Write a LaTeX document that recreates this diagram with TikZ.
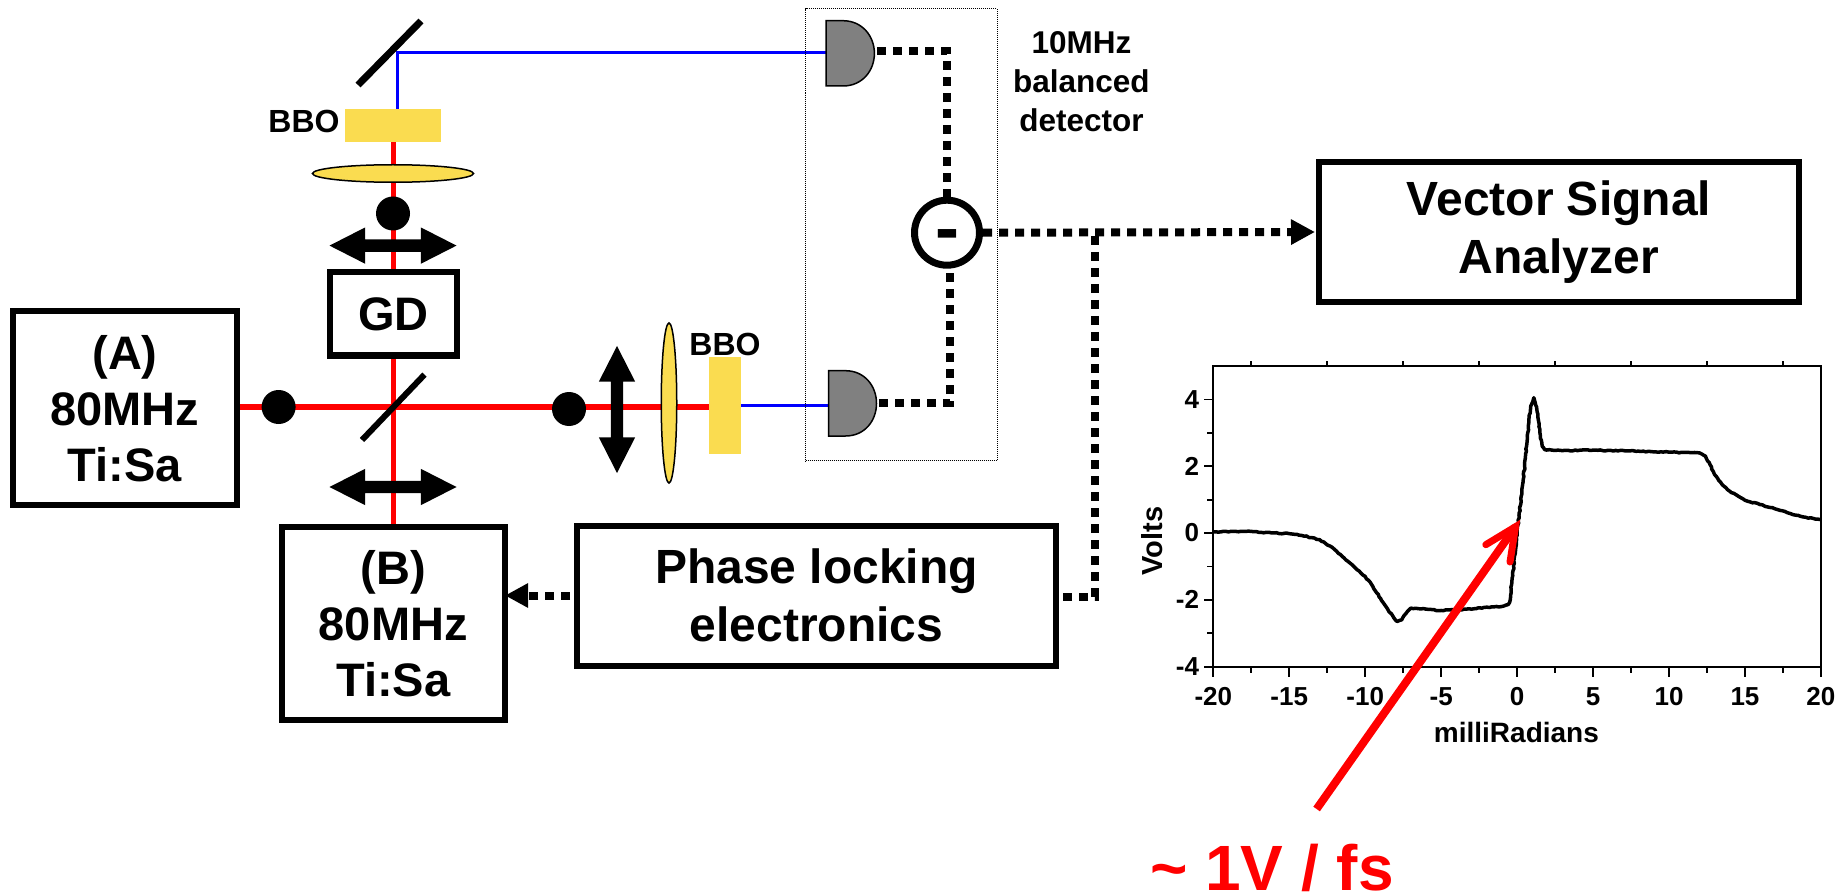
\documentclass[tikz,border=0pt]{standalone}
\usepackage{fontspec}
\setmainfont{Liberation Sans}
\usetikzlibrary{arrows.meta,shapes.geometric,shapes.arrows,backgrounds,decorations.pathmorphing}
\definecolor{crystal}{HTML}{FADC50}
\definecolor{detgray}{HTML}{808080}
\newcommand{\fpx}[1]{\fontsize{#1}{#1}\selectfont\bfseries}
\tikzset{
  x=1pt,y=-1pt,
  labbox/.style={draw=black,line width=6pt,fill=white,inner sep=0pt,outer sep=0pt,align=center,font=\fontsize{47}{56}\selectfont\bfseries},
  widebox/.style={labbox,font=\fontsize{48}{58}\selectfont\bfseries},
  bbotext/.style={font=\fpx{32},inner sep=0pt},
  crystalbox/.style={fill=crystal,inner sep=0pt,outer sep=0pt},
  lens/.style={ellipse,draw=black,line width=1.5pt,fill=crystal,inner sep=0pt,outer sep=0pt},
  beamdot/.style={circle,fill=black,inner sep=0pt,minimum size=34pt},
  movearrow/.style={double arrow,fill=black,inner sep=6pt,outer sep=0pt,minimum height=127pt,minimum width=36pt,double arrow head extend=12pt,double arrow tip angle=54},
  mirror/.style={line width=7pt,black},
  redbeam/.style={line width=5.5pt,red},
  bluebeam/.style={line width=3pt,blue},
  signal/.style={line width=8pt,black,dash pattern=on 9pt off 7pt},
  detector/.style={fill=detgray,draw=black,line width=1.5pt},
  axisline/.style={line width=1.8pt,black},
  ticklab/.style={font=\fpx{26},inner sep=0pt},
}
\begin{document}
\begin{tikzpicture}
\useasboundingbox (0,0) rectangle (1837,893);
% boxes
\node[labbox,minimum width=224pt,minimum height=193.5pt] (laserA) at (125,408.25) {(A)\\80MHz\\Ti:Sa};
\node[labbox,minimum width=223.5pt,minimum height=193pt] (laserB) at (393.25,623.5) {(B)\\80MHz\\Ti:Sa};
\node[labbox,minimum width=127.5pt,minimum height=83pt] (gd) at (393.25,314) {GD};
\node[widebox,minimum width=479pt,minimum height=140.5pt] (lock) at (816.5,595.75) {Phase locking\\electronics};
\node[widebox,minimum width=480pt,minimum height=140pt] (vsa) at (1559,232) {Vector Signal\\Analyzer};
% optics
\node[crystalbox,minimum width=96pt,minimum height=33pt] (bboT) at (393,125.5) {};
\node[crystalbox,minimum width=32pt,minimum height=97pt] (bboR) at (725,405.5) {};
\node[bbotext] (bboTlabel) at (304,121.7) {BBO};
\node[bbotext] (bboRlabel) at (725,344) {BBO};
\node[lens,minimum width=161pt,minimum height=17.5pt] (lensT) at (393,173.5) {};
\node[lens,minimum width=15.5pt,minimum height=160pt] (lensR) at (669,403) {};
\node[beamdot] (dotT) at (393,213.5) {};
\node[beamdot] (dotL) at (278.6,407) {};
\node[beamdot] (dotR) at (569,409) {};
\node[movearrow] (moveT) at (393,245.6) {};
\node[movearrow] (moveB) at (393,487) {};
\node[movearrow,shape border rotate=90] (moveR) at (617,409.5) {};
\coordinate (mirTa) at (421,21);
\coordinate (mirTb) at (358,85);
\coordinate (mirMa) at (424.5,374.6);
\coordinate (mirMb) at (362,440);
\draw[mirror] (mirTa) -- (mirTb);
\draw[mirror,line width=6pt] (mirMa) -- (mirMb);
% detectors
\draw[detector] (826,20.7) -- (843,20.7) .. controls (862,20.7) and (874.4,36) .. (874.4,53.3) .. controls (874.4,71) and (862,86) .. (843,86) -- (826,86) -- cycle;
\draw[detector] (828.5,370.7) -- (845.5,370.7) .. controls (864.5,370.7) and (876.5,386) .. (876.5,403.3) .. controls (876.5,421) and (864.5,436) .. (845.5,436) -- (828.5,436) -- cycle;
\coordinate (detUw) at (826,53);
\coordinate (detUe) at (877,51);
\coordinate (detLw) at (828.5,405.4);
\coordinate (detLe) at (879,403);
\node[draw=black,line width=7pt,fill=white,circle,minimum size=65pt,inner sep=0pt,outer sep=3.5pt] (diff) at (947,232.7) {};
\node[font=\fontsize{72}{72}\selectfont\bfseries,inner sep=0pt] (minus) at (947,241) {-};
\node[draw=black,line width=1pt,dash pattern=on 1pt off 1pt,minimum width=191.4pt,minimum height=451.7pt,inner sep=0pt,outer sep=0pt] (detbox) at (901.3,234.85) {};
\node[font=\fontsize{31.5}{39}\selectfont\bfseries,align=center,inner sep=0pt] (detlabel) at (1081.4,82) {10MHz\\balanced\\detector};
% beams
\begin{scope}[on background layer]
\coordinate (redH) at (0,407);
\draw[redbeam] (laserA.east |- redH) -- (bboR.west |- redH);
\draw[redbeam] (laserB.north) -- (bboT.south -| laserB.north);
\coordinate (blueT) at (397,109);
\coordinate (blueC) at (397,53);
\draw[bluebeam] (blueT) -- (blueC) -- (detUw);
\draw[bluebeam] (bboR.east |- detLw) -- (detLw);
\end{scope}
% signals
\coordinate (cornerU) at (947,51);
\coordinate (cornerL) at (950,403);
\draw[signal] (detUe) -- (cornerU) -- (diff.north);
\draw[signal] (detLe) -- (cornerL) -- (cornerL |- diff.south);
\draw[signal,shorten >=4pt,-{Triangle[length=24pt,width=24pt]}] (diff.east) -- (vsa.west);
\coordinate (branchT) at (1095,236);
\coordinate (branchB) at (1095,597);
\draw[signal] (branchT) -- (branchB) -- (lock.east |- branchB);
\draw[signal,-{Triangle[length=23pt,width=23pt]}] (lock.west |- 0,595.5) ++(-7,0) -- (laserB.east |- 0,595.5);
% plot
\begin{scope}[shift={(1517.1,533)},x=15.19pt,y=33.4pt]
\draw[axisline] (-20,-4) rectangle (20,5);
\foreach \v in {-20,-15,...,20} {
  \draw[axisline] (\v,-4) -- ++(0,-10pt);
  \node[ticklab,anchor=center] (xt\v) at (\v,-4 |- 0,-4) [yshift=-30pt] {\v};
}
\foreach \v in {-17.5,-12.5,...,17.5} {
  \draw[axisline] (\v,-4) -- ++(0,-6pt);
  \draw[axisline] (\v,5) -- ++(0,5pt);
}
\foreach \v in {-4,-2,0,2,4} {
  \draw[axisline] (-20,\v) -- ++(-9pt,0);
  \node[ticklab,anchor=east] (yt\v) at (-20,\v) [xshift=-14pt] {\v};
}
\foreach \v in {-3,-1,1,3} \draw[axisline] (-20,\v) -- ++(-6pt,0);
\pgfmathsetseed{7}
\draw[line width=3.5pt,line join=round,decorate,decoration={random steps,segment length=2.5pt,amplitude=.5pt}] plot coordinates {(-20,.03)(-18,.05)(-16,0)(-15,-.02)(-14.2,-.07)(-13.5,-.14)(-13,-.2)(-12,-.5)(-11,-.9)(-10,-1.3)(-9.5,-1.6)(-9,-1.95)(-8.5,-2.3)(-8.1,-2.55)(-7.9,-2.65)(-7.6,-2.6)(-7.3,-2.4)(-7,-2.25)(-6,-2.28)(-5,-2.32)(-4,-2.3)(-3,-2.28)(-2,-2.22)(-1,-2.2)(-.6,-2.15)(-.45,-2)(-.35,-1.5)(-.1,-.5)(0,0)(.2,.8)(.5,2)(.7,3)(.9,3.8)(1.1,4.05)(1.3,3.7)(1.5,3)(1.65,2.6)(1.8,2.5)(2.5,2.47)(5,2.48)(8,2.45)(10,2.42)(12,2.4)(12.4,2.3)(12.7,2.05)(13,1.75)(13.5,1.45)(14,1.25)(15,.98)(16,.85)(17,.72)(18,.58)(19,.47)(20,.4)};
\end{scope}
\node[font=\fpx{28},inner sep=0pt] (xlabel) at (1516.4,732) {milliRadians};
\node[font=\fpx{29},inner sep=0pt,rotate=90] (ylabel) at (1152,541) {Volts};
% slope annotation
\coordinate (slopeTail) at (1316.6,809);
\coordinate (slopeTip) at (1515.5,526.7);
\coordinate (barbA) at (1485.8,544.7);
\coordinate (barbB) at (1510,562);
\draw[red,line width=8pt] (slopeTail) -- (slopeTip);
\draw[red,line width=7pt,line cap=round,line join=miter] (barbA) -- (slopeTip) -- (barbB);
\node[font=\fpx{64},text=red,inner sep=0pt,anchor=base] (slopelabel) at (1272,890) {\textasciitilde{} 1V / fs};
\end{tikzpicture}
\end{document}
